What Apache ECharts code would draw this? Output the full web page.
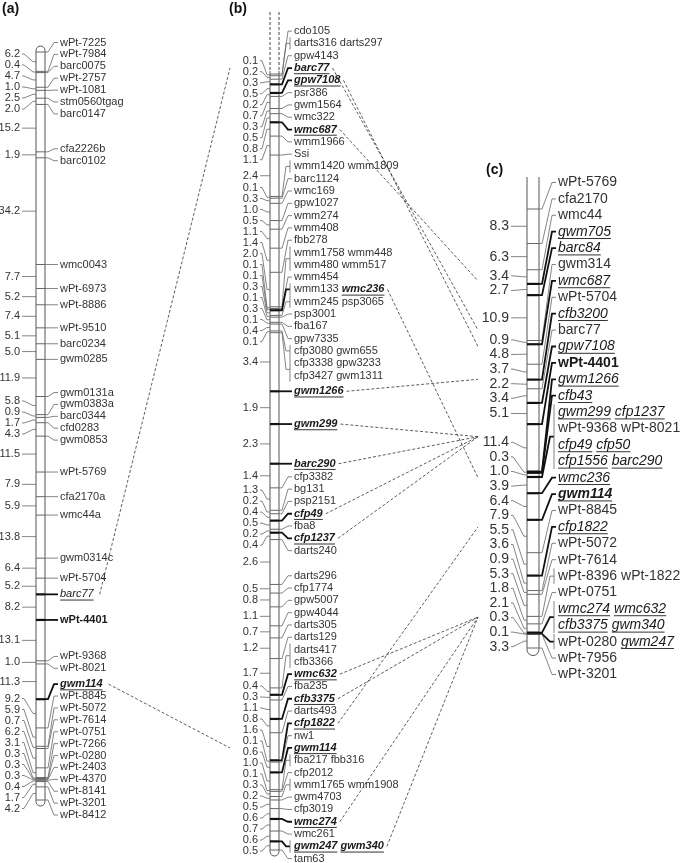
<!DOCTYPE html>
<html>
<head>
<meta charset="utf-8">
<script src="https://cdn.jsdelivr.net/npm/echarts@6/dist/echarts.min.js"></script>
<style>
html, body { margin: 0; background: #fff; }
#main { width: 685px; height: 863px; }
</style>
</head>
<body>
<div id="main"></div>
<script>
// ---- chromosome (a): distances (cM) between neighbouring loci, and the loci
const aIntervals = [6.2, 0.4, 4.7, 1.0, 2.5, 2.0, 15.2, 1.9, 34.2, 7.7, 5.2, 7.4, 5.1, 5.0, 11.9, 5.8, 0.9, 1.7, 4.3,
  11.5, 7.9, 5.9, 13.8, 6.4, 5.2, 8.2, 13.1, 1.0, 11.3, 9.2, 5.9, 0.7, 6.2, 3.1, 0.3, 0.3, 0.3, 0.4, 1.7, 4.2];
const aLoci = ['wPt-7225', 'wPt-7984', 'barc0075', 'wPt-2757', 'wPt-1081', 'stm0560tgag', 'barc0147', 'cfa2226b',
  'barc0102', 'wmc0043', 'wPt-6973', 'wPt-8886', 'wPt-9510', 'barc0234', 'gwm0285', 'gwm0131a', 'gwm0383a',
  'barc0344', 'cfd0283', 'gwm0853', 'wPt-5769', 'cfa2170a', 'wmc44a', 'gwm0314c', 'wPt-5704', 'barc77', 'wPt-4401',
  'wPt-9368', 'wPt-8021', 'gwm114', 'wPt-8845', 'wPt-5072', 'wPt-7614', 'wPt-0751', 'wPt-7266', 'wPt-0280',
  'wPt-2403', 'wPt-4370', 'wPt-8141', 'wPt-3201', 'wPt-8412'];
const aAnchors = ['barc77', 'gwm114'];
const aBoldNames = ['wPt-4401', 'gwm114'];

// ---- chromosome (b)
const bIntervals = [0.1, 0.2, 0.3, 0.5, 0.2, 0.7, 0.3, 0.5, 0.8, 1.1, 2.4, 0.1, 0.3, 1.0, 0.5, 1.1, 1.4, 2.0, 0.1,
  0.1, 0.3, 0.1, 0.3, 0.1, 0.4, 0.1, 3.4, 1.9, 2.3, 1.4, 1.3, 0.2, 0.4, 0.5, 0.2, 0.4, 2.6, 0.5, 0.8, 1.1, 0.7, 1.2,
  1.7, 0.4, 0.3, 1.1, 0.8, 1.6, 0.1, 0.6, 1.0, 0.1, 0.3, 0.2, 0.5, 0.6, 0.7, 0.6, 0.5];
const bLoci = ['cdo105', 'darts316 darts297', 'gpw4143', 'barc77', 'gpw7108', 'psr386', 'gwm1564', 'wmc322',
  'wmc687', 'wmm1966', 'Ssi', 'wmm1420 wmm1809', 'barc1124', 'wmc169', 'gpw1027', 'wmm274', 'wmm408', 'fbb278',
  ['wmm1758 wmm448', 'wmm480 wmm517'], 'wmm454', 'wmm133 wmc236', 'wmm245 psp3065', 'psp3001', 'fba167', 'gpw7335',
  'cfp3080 gwm655', ['cfp3338 gpw3233', 'cfp3427 gwm1311'], 'gwm1266', 'gwm299', 'barc290', 'cfp3382', 'bg131',
  'psp2151', 'cfp49', 'fba8', 'cfp1237', 'darts240', 'darts296', 'cfp1774', 'gpw5007', 'gpw4044', 'darts305',
  'darts129', ['darts417', 'cfb3366'], 'wmc632', 'fba235', 'cfb3375', 'darts493', 'cfp1822', 'nw1', 'gwm114',
  'fba217 fbb316', 'cfp2012', 'wmm1765 wmm1908', 'gwm4703', 'cfp3019', 'wmc274', 'wmc261', 'gwm247 gwm340', 'tam63'];
const bAnchors = ['barc77', 'gpw7108', 'wmc687', 'wmc236', 'gwm1266', 'gwm299', 'barc290', 'cfp49', 'cfp1237',
  'wmc632', 'cfb3375', 'cfp1822', 'gwm114', 'wmc274', 'gwm247', 'gwm340'];
const bBoldNames = bAnchors;

// ---- chromosome (c)
const cIntervals = [8.3, 6.3, 3.4, 2.7, 10.9, 0.9, 4.8, 3.7, 2.2, 3.4, 5.1, 11.4, 0.3, 1.0, 3.9, 6.4, 7.9, 5.5, 3.6,
  0.9, 5.3, 1.8, 2.1, 0.3, 0.1, 3.3];
const cLoci = ['wPt-5769', 'cfa2170', 'wmc44', 'gwm705', 'barc84', 'gwm314', 'wmc687', 'wPt-5704', 'cfb3200',
  'barc77', 'gpw7108', 'wPt-4401', 'gwm1266', 'cfb43',
  ['gwm299 cfp1237', 'wPt-9368 wPt-8021', 'cfp49 cfp50', 'cfp1556 barc290'], 'wmc236', 'gwm114', 'wPt-8845',
  'cfp1822', 'wPt-5072', 'wPt-7614', 'wPt-8396 wPt-1822', 'wPt-0751', ['wmc274 wmc632', 'cfb3375 gwm340'],
  'wPt-0280 gwm247', 'wPt-7956', 'wPt-3201'];
const cAnchors = ['gwm705', 'barc84', 'wmc687', 'cfb3200', 'gpw7108', 'gwm1266', 'cfb43', 'gwm299', 'cfp1237',
  'cfp49', 'cfp50', 'cfp1556', 'barc290', 'wmc236', 'gwm114', 'cfp1822', 'wmc274', 'wmc632', 'cfb3375', 'gwm340',
  'gwm247'];
const cBoldNames = ['wPt-4401', 'gwm114'];

// dashed links between maps
const abLinks = ['barc77', 'gwm114'];
const bcLinks = ['barc77', 'gpw7108', 'wmc687', 'wmc236', 'gwm1266', 'gwm299', 'barc290', 'cfp49', 'cfp1237',
  'wmc632', 'cfb3375', 'cfp1822', 'wmc274', 'gwm340'];

const FONT = '"Liberation Sans", Arial, Helvetica, sans-serif';
const measureCtx = document.createElement('canvas').getContext('2d');
const fontOf = (fs, bold, italic) => (italic ? 'italic ' : '') + (bold ? 'bold ' : '') + fs + 'px ' + FONT;
const textW = (s, font) => { measureCtx.font = font; return measureCtx.measureText(s).width; };

const panels = [
  { intervals: aIntervals, loci: aLoci, anchors: aAnchors, bold: aBoldNames,
    left: 36, width: 9, top: 52, height: 748, fs: 11, gapR: 11.9, gapL: 11, textGap: 15, numGap: 16, head: 'round' },
  { intervals: bIntervals, loci: bLoci, anchors: bAnchors, bold: bBoldNames,
    left: 270, width: 9, top: 74, height: 776, fs: 11, gapR: 12.3, gapL: 11, textGap: 15, numGap: 12, head: 'dashed' },
  { intervals: cIntervals, loci: cLoci, anchors: cAnchors, bold: cBoldNames,
    left: 527, width: 12, top: 209, height: 439, fs: 14, gapR: 16.4, gapL: 14.6, textGap: 19, numGap: 18, head: 'open' }
];

// labels too close together are pushed apart; a crowded run is centred on its first and last locus
function spread(want, gap) {
  const blocks = want.map((_, i) => [i, i]);
  const topOf = b => (want[b[0]] + want[b[1]]) / 2 - (b[1] - b[0]) * gap / 2;
  let again = true;
  while (again) {
    again = false;
    for (let k = 0; k + 1 < blocks.length; k++) {
      const p = blocks[k], q = blocks[k + 1];
      if (topOf(p) + (p[1] - p[0] + 1) * gap > topOf(q) + 0.01) {
        blocks.splice(k, 2, [p[0], q[1]]);
        again = true;
        break;
      }
    }
  }
  const out = [];
  blocks.forEach(b => {
    const t = topOf(b);
    for (let i = b[0]; i <= b[1]; i++) out.push(t + (i - b[0]) * gap);
  });
  return out;
}

function drawPanel(p, api) {
  const cum = [0];
  p.intervals.forEach(v => cum.push(cum[cum.length - 1] + v));
  const yOf = cm => api.coord([0, cm])[1];
  const x0 = api.coord([0, 0])[0];
  const x1 = api.coord([1, 0])[0];
  const locY = cum.map(yOf);
  const last = locY[locY.length - 1];
  const r = (x1 - x0) / 2;
  const fs = p.fs;
  const els = [];
  const thin = { stroke: '#666', lineWidth: 0.8, fill: 'none' };
  const heavy = { stroke: '#111', lineWidth: 1.8, fill: 'none' };
  const outline = { stroke: '#555', lineWidth: 1, fill: 'none' };
  const dash = { stroke: '#444', lineWidth: 1, lineDash: [3, 2], fill: 'none' };
  const line = (xa, ya, xb, yb, st) => els.push({ type: 'line', shape: { x1: xa, y1: ya, x2: xb, y2: yb }, style: st });
  const poly = (pts, st) => els.push({ type: 'polyline', shape: { points: pts }, style: st });
  const isAnchor = n => p.anchors.includes(n);
  const isBold = n => p.bold.includes(n);

  // chromosome body
  let sideTop;
  if (p.head === 'round') {
    sideTop = locY[0] - 6 + r;
    els.push({ type: 'arc', shape: { cx: (x0 + x1) / 2, cy: sideTop, r: r, startAngle: Math.PI, endAngle: 2 * Math.PI }, style: outline });
  } else if (p.head === 'dashed') {
    sideTop = locY[0] - 3;
    line(x0, sideTop - 59, x0, sideTop, dash);
    line(x1, sideTop - 59, x1, sideTop, dash);
  } else {
    sideTop = locY[0] - 32;
  }
  const sideBot = last + 1.5;
  line(x0, sideTop, x0, sideBot, outline);
  line(x1, sideTop, x1, sideBot, outline);
  els.push({ type: 'arc', shape: { cx: (x0 + x1) / 2, cy: sideBot, r: r, startAngle: 0, endAngle: Math.PI }, style: outline });

  // loci ticks and right-hand names
  const rows = [];
  const lociRows = [];
  p.loci.forEach((entry, li) => {
    const lines = Array.isArray(entry) ? entry : [entry];
    lociRows.push([]);
    lines.forEach(t => { lociRows[li].push(rows.length); rows.push({ li: li, names: t.split(' ') }); });
  });
  const rowY = spread(rows.map(rw => locY[rw.li]), p.gapR);
  const tx = x1 + p.textGap;
  p.pos = {};
  lociRows.forEach((ids, li) => {
    const ly = locY[li];
    const names = [];
    ids.forEach(k => names.push(...rows[k].names));
    const strong = names.some(n => isAnchor(n) || isBold(n));
    line(x0, ly, x1, ly, strong ? { stroke: '#111', lineWidth: 2.2 } : { stroke: '#666', lineWidth: 1 });
    const yA = rowY[ids[0]], yB = rowY[ids[ids.length - 1]];
    const gy = (yA + yB) / 2;
    const multi = names.length > 1;
    const endX = multi ? tx - 4 : tx - 2;
    poly([[x1, ly], [x1 + 3, ly], [endX - 4, gy], [endX, gy]], strong ? heavy : thin);
    if (multi) line(tx - 4, yA - fs * 0.55, tx - 4, yB + fs * 0.55, thin);
    ids.forEach(k => {
      const y = rowY[k];
      let x = tx;
      const row = rows[k];
      row.names.forEach((n, j) => {
        const it = isAnchor(n), bd = isBold(n);
        const font = fontOf(fs, bd, it);
        const w = textW(n, font);
        els.push({ type: 'text', x: x, y: y, style: { text: n, font: font, fill: (it || bd) ? '#1a1a1a' : '#333',
          textAlign: 'left', align: 'left', textVerticalAlign: 'middle', verticalAlign: 'middle' } });
        if (it) line(x, y + fs * 0.38 + 1.5, x + w, y + fs * 0.38 + 1.5, { stroke: '#333', lineWidth: 1 });
        x += w;
        if (j < row.names.length - 1) x += textW(' ', fontOf(fs, false, false));
      });
      row.names.forEach(n => { p.pos[n] = { xEnd: x, y: y, gy: gy }; });
    });
  });

  // interval distances on the left
  const mids = p.intervals.map((v, i) => yOf(cum[i] + v / 2));
  const ly = spread(mids, p.gapL);
  const nr = x0 - p.numGap;
  p.numRight = nr;
  p.intervals.forEach((v, i) => {
    els.push({ type: 'text', x: nr, y: ly[i], style: { text: v.toFixed(1), font: fontOf(fs, false, false), fill: '#333',
      textAlign: 'right', align: 'right', textVerticalAlign: 'middle', verticalAlign: 'middle' } });
    poly([[nr + 2, ly[i]], [nr + 4, ly[i]], [x0 - 3, mids[i]], [x0, mids[i]]], thin);
  });

  return { type: 'group', children: els };
}

const chart = echarts.init(document.getElementById('main'), null, { renderer: 'canvas' });
chart.setOption({
  animation: false,
  backgroundColor: '#fff',
  grid: panels.map(p => ({ left: p.left, width: p.width, top: p.top, height: p.height, containLabel: false, outerBoundsMode: 'none' })),
  xAxis: panels.map((p, i) => ({ type: 'value', gridIndex: i, min: 0, max: 1, show: false })),
  yAxis: panels.map((p, i) => ({
    type: 'value', gridIndex: i, inverse: true, min: 0,
    max: p.intervals.reduce((s, v) => s + v, 0), show: false
  })),
  series: panels.map((p, i) => ({
    type: 'custom', xAxisIndex: i, yAxisIndex: i, clip: false, silent: true,
    data: [[0, 0]],
    renderItem: (params, api) => drawPanel(p, api)
  }))
});

let linked = false;
function addLinks() {
  const [A, B, C] = panels;
  if (linked || !A.pos || !B.pos || !C.pos) return;
  linked = true;
  const dash = { stroke: '#333', lineWidth: 0.8, lineDash: [3, 2] };
  const els = [];
  abLinks.forEach(n => {
    const s = A.pos[n], t = B.pos[n];
    els.push({ type: 'line', silent: true, shape: { x1: s.xEnd + 6, y1: s.y, x2: B.numRight - 28, y2: t.y }, style: dash });
  });
  bcLinks.forEach(n => {
    const s = B.pos[n], t = C.pos[n];
    els.push({ type: 'line', silent: true, shape: { x1: s.xEnd + 3, y1: s.y, x2: C.numRight - 31, y2: t.gy }, style: dash });
  });
  const title = { font: 'bold 14px ' + FONT, fill: '#111' };
  els.push({ type: 'text', left: 2, top: 2, style: Object.assign({ text: '(a)' }, title) });
  els.push({ type: 'text', left: 229, top: 2, style: Object.assign({ text: '(b)' }, title) });
  els.push({ type: 'text', left: 486, top: 163, style: Object.assign({ text: '(c)' }, title) });
  chart.setOption({ graphic: els });
}
addLinks();
chart.on('finished', addLinks);
</script>
</body>
</html>
